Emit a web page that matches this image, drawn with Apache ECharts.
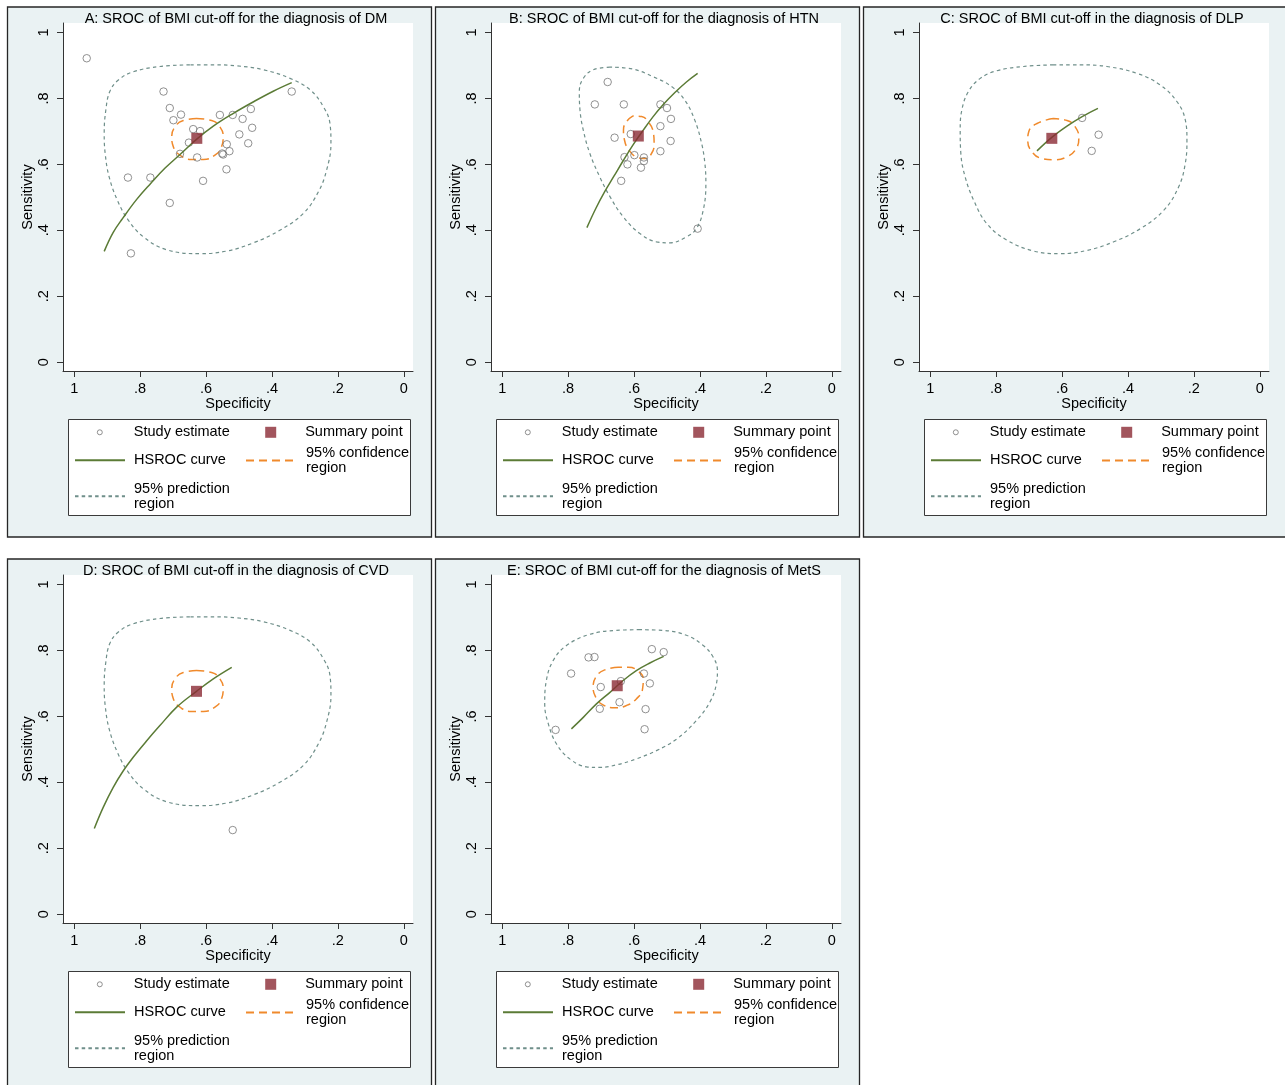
<!DOCTYPE html>
<html><head><meta charset="utf-8">
<script src="https://cdn.jsdelivr.net/npm/echarts@6/dist/echarts.min.js"></script>
<style>html,body{margin:0;padding:0;background:#fff}#c{width:1285px;height:1085px}</style>
</head><body><div id="c"></div>
<script>
// ---------- data (specificity, sensitivity) ----------
const tickValues = [0, 0.2, 0.4, 0.6, 0.8, 1];
const tickLabels = ['0', '.2', '.4', '.6', '.8', '1'];
const titles = [
  'A: SROC of BMI cut-off for the diagnosis of DM',
  'B: SROC of BMI cut-off for the diagnosis of HTN',
  'C: SROC of BMI cut-off in the diagnosis of DLP',
  'D: SROC of BMI cut-off in the diagnosis of CVD',
  'E: SROC of BMI cut-off for the diagnosis of MetS'
];
const legendNames = ['Study estimate', 'Summary point', 'HSROC curve', '95% confidence region', '95% prediction region'];

const studyA = [[0.962,0.922],[0.729,0.821],[0.710,0.771],[0.676,0.751],[0.699,0.734],[0.639,0.707],[0.618,0.701],[0.652,0.666],[0.679,0.632],[0.627,0.621],[0.558,0.750],[0.519,0.750],[0.489,0.738],[0.464,0.768],[0.460,0.711],[0.499,0.691],[0.472,0.664],[0.537,0.661],[0.529,0.640],[0.548,0.630],[0.551,0.633],[0.538,0.585],[0.609,0.550],[0.837,0.560],[0.769,0.560],[0.710,0.483],[0.828,0.330],[0.340,0.821]];
const summaryA = [[0.628,0.679]];
const curveA = [[0.909,0.336],[0.882,0.393],[0.853,0.436],[0.811,0.493],[0.768,0.542],[0.725,0.588],[0.679,0.630],[0.629,0.676],[0.578,0.716],[0.517,0.755],[0.456,0.790],[0.396,0.822],[0.340,0.848]];
const confA = [[0.629,0.739],[0.669,0.733],[0.694,0.714],[0.704,0.684],[0.699,0.653],[0.679,0.628],[0.644,0.615],[0.608,0.615],[0.573,0.628],[0.553,0.653],[0.548,0.684],[0.558,0.714],[0.583,0.733],[0.629,0.739]];
const predA = [[0.649,0.902],[0.740,0.897],[0.821,0.881],[0.866,0.856],[0.892,0.821],[0.904,0.765],[0.909,0.694],[0.906,0.633],[0.894,0.562],[0.869,0.491],[0.836,0.431],[0.790,0.380],[0.720,0.341],[0.618,0.329],[0.537,0.337],[0.456,0.362],[0.376,0.400],[0.305,0.451],[0.259,0.517],[0.234,0.583],[0.221,0.664],[0.224,0.724],[0.244,0.775],[0.284,0.826],[0.345,0.861],[0.426,0.887],[0.507,0.899],[0.578,0.902],[0.649,0.902]];

const studyB = [[0.680,0.850],[0.719,0.782],[0.631,0.782],[0.520,0.782],[0.500,0.771],[0.488,0.738],[0.520,0.716],[0.659,0.681],[0.610,0.692],[0.489,0.671],[0.520,0.640],[0.629,0.622],[0.599,0.628],[0.570,0.621],[0.570,0.610],[0.620,0.600],[0.579,0.590],[0.639,0.550],[0.407,0.405]];
const summaryB = [[0.587,0.686]];
const curveB = [[0.743,0.408],[0.716,0.466],[0.689,0.517],[0.661,0.564],[0.633,0.611],[0.603,0.659],[0.572,0.704],[0.542,0.745],[0.512,0.781],[0.476,0.818],[0.441,0.850],[0.407,0.876]];
const confB = [[0.603,0.747],[0.623,0.729],[0.632,0.704],[0.629,0.674],[0.615,0.643],[0.593,0.623],[0.567,0.618],[0.547,0.633],[0.539,0.664],[0.542,0.699],[0.557,0.729],[0.577,0.745],[0.603,0.747]];
const predB = [[0.673,0.895],[0.724,0.887],[0.754,0.861],[0.766,0.821],[0.764,0.765],[0.754,0.704],[0.734,0.633],[0.704,0.562],[0.673,0.502],[0.633,0.441],[0.582,0.390],[0.532,0.365],[0.491,0.362],[0.441,0.380],[0.411,0.405],[0.390,0.461],[0.382,0.542],[0.385,0.603],[0.395,0.664],[0.416,0.735],[0.446,0.795],[0.486,0.836],[0.542,0.866],[0.603,0.889],[0.673,0.895]];

const studyC = [[0.539,0.741],[0.489,0.690],[0.510,0.641]];
const summaryC = [[0.631,0.679]];
const curveC = [[0.676,0.641],[0.631,0.682],[0.585,0.716],[0.539,0.745],[0.491,0.770]];
const confC = [[0.626,0.739],[0.676,0.724],[0.701,0.699],[0.704,0.674],[0.691,0.638],[0.661,0.618],[0.626,0.614],[0.585,0.623],[0.557,0.648],[0.549,0.679],[0.560,0.714],[0.585,0.733],[0.626,0.739]];
const predC = [[0.626,0.902],[0.717,0.897],[0.798,0.884],[0.848,0.861],[0.884,0.821],[0.904,0.765],[0.909,0.704],[0.907,0.633],[0.894,0.562],[0.868,0.491],[0.828,0.420],[0.767,0.370],[0.686,0.337],[0.605,0.329],[0.524,0.339],[0.443,0.365],[0.362,0.405],[0.291,0.461],[0.246,0.532],[0.226,0.603],[0.221,0.674],[0.226,0.735],[0.251,0.790],[0.302,0.841],[0.372,0.876],[0.464,0.897],[0.545,0.902],[0.626,0.902]];

const studyD = [[0.519,0.255]];
const summaryD = [[0.629,0.676]];
const curveD = [[0.939,0.260],[0.912,0.324],[0.882,0.384],[0.851,0.435],[0.821,0.476],[0.780,0.526],[0.740,0.572],[0.689,0.628],[0.629,0.676],[0.578,0.714],[0.522,0.749]];
const confD = [[0.629,0.739],[0.669,0.733],[0.694,0.714],[0.704,0.684],[0.699,0.653],[0.679,0.628],[0.644,0.615],[0.608,0.615],[0.573,0.628],[0.553,0.653],[0.548,0.684],[0.558,0.714],[0.583,0.733],[0.629,0.739]];
const predD = [[0.649,0.902],[0.740,0.897],[0.821,0.881],[0.866,0.856],[0.892,0.821],[0.904,0.765],[0.909,0.694],[0.906,0.633],[0.894,0.562],[0.869,0.491],[0.836,0.431],[0.790,0.380],[0.720,0.341],[0.618,0.329],[0.537,0.337],[0.456,0.362],[0.376,0.400],[0.305,0.451],[0.259,0.517],[0.234,0.583],[0.221,0.664],[0.224,0.724],[0.244,0.775],[0.284,0.826],[0.345,0.861],[0.426,0.887],[0.507,0.899],[0.578,0.902],[0.649,0.902]];

const studyE = [[0.546,0.804],[0.510,0.795],[0.738,0.779],[0.720,0.780],[0.791,0.730],[0.570,0.730],[0.552,0.700],[0.640,0.707],[0.701,0.689],[0.644,0.643],[0.704,0.623],[0.565,0.622],[0.568,0.561],[0.838,0.559]];
const summaryE = [[0.651,0.693]];
const curveE = [[0.790,0.562],[0.754,0.597],[0.714,0.638],[0.673,0.673],[0.633,0.709],[0.593,0.739],[0.552,0.762],[0.510,0.782]];
const confE = [[0.648,0.749],[0.689,0.741],[0.716,0.719],[0.724,0.689],[0.716,0.658],[0.694,0.635],[0.658,0.626],[0.623,0.633],[0.593,0.653],[0.574,0.684],[0.572,0.714],[0.587,0.737],[0.618,0.749],[0.648,0.749]];
const predE = [[0.582,0.863],[0.653,0.861],[0.734,0.849],[0.805,0.815],[0.845,0.770],[0.866,0.709],[0.871,0.638],[0.860,0.577],[0.835,0.516],[0.795,0.471],[0.744,0.447],[0.704,0.445],[0.653,0.453],[0.593,0.471],[0.532,0.496],[0.471,0.531],[0.411,0.587],[0.370,0.643],[0.350,0.699],[0.347,0.739],[0.360,0.780],[0.390,0.815],[0.441,0.846],[0.512,0.861],[0.582,0.863]];

// ---------- build ----------
const panels = [
  {col:0,row:0,study:studyA,summary:summaryA,curve:curveA,conf:confA,pred:predA},
  {col:1,row:0,study:studyB,summary:summaryB,curve:curveB,conf:confB,pred:predB},
  {col:2,row:0,study:studyC,summary:summaryC,curve:curveC,conf:confC,pred:predC},
  {col:0,row:1,study:studyD,summary:summaryD,curve:curveD,conf:confD,pred:predD},
  {col:1,row:1,study:studyE,summary:summaryE,curve:curveE,conf:confE,pred:predE}
];
const FONT = '"Liberation Sans", Arial, Helvetica, sans-serif';
const FS = 14.5;
const C_PT = '#767676', C_SUM = '#8b2a35', C_HS = '#5b7b36', C_CONF = '#f08a2c', C_PRED = '#6f8f8a';
const BG = '#eaf2f3', AXC = '#333333';
const DX = 428, DY = 552;

const grid = [], xAxis = [], yAxis = [], series = [], title = [], legend = [], graphics = [];
const lab = v => { const i = tickValues.findIndex(t => Math.abs(t - v) < 1e-9); return i >= 0 ? tickLabels[i] : ''; };

panels.forEach((p, i) => {
  const dx = p.col * DX, dy = p.row * DY;
  graphics.push({type:'rect', z:-100, silent:true, shape:{x:7.5+dx, y:7+dy, width:424, height:530}, style:{fill:BG, stroke:'#262626', lineWidth:1.3}});
  graphics.push({type:'rect', z:1, silent:true, shape:{x:68.5+dx, y:419.5+dy, width:342, height:96}, style:{fill:'#fff', stroke:'#3a3a3a', lineWidth:1}});
  grid.push({left:63+dx, top:23+dy, width:350, height:348, show:true, backgroundColor:'#fff', borderWidth:0, outerBoundsMode:'none', containLabel:false});
  const axisCommon = {
    type:'value', gridIndex:i,
    axisLine:{show:true, onZero:false, lineStyle:{color:AXC, width:1}},
    axisTick:{show:true, length:6, customValues:tickValues, lineStyle:{color:AXC, width:1}},
    splitLine:{show:false},
    nameLocation:'middle',
    nameTextStyle:{fontSize:FS, color:'#000', fontFamily:FONT}
  };
  xAxis.push(Object.assign({}, axisCommon, {
    inverse:true, min:-0.028, max:1.034, name:'Specificity', nameGap:23,
    axisLabel:{customValues:tickValues, formatter:lab, margin:10, fontSize:FS, color:'#000', fontFamily:FONT}
  }));
  yAxis.push(Object.assign({}, axisCommon, {
    min:-0.027, max:1.029, name:'Sensitivity', nameGap:23, nameRotate:90,
    axisLabel:{customValues:tickValues, formatter:lab, rotate:90, margin:12, fontSize:FS, color:'#000', fontFamily:FONT}
  }));
  title.push({text:titles[i], left:236+dx, top:11+dy, textAlign:'center', padding:0,
    textStyle:{fontSize:FS, fontWeight:'normal', color:'#000', fontFamily:FONT}});

  series.push({name:legendNames[4], type:'line', xAxisIndex:i, yAxisIndex:i, data:p.pred, symbol:'none', smooth:0.4, z:2,
    lineStyle:{color:C_PRED, width:1.2, type:[3.5,3.2]}, itemStyle:{color:C_PRED}});
  series.push({name:legendNames[3], type:'line', xAxisIndex:i, yAxisIndex:i, data:p.conf, symbol:'none', smooth:0.5, z:3,
    lineStyle:{color:C_CONF, width:1.5, type:[8,5]}, itemStyle:{color:C_CONF}});
  series.push({name:legendNames[0], type:'scatter', xAxisIndex:i, yAxisIndex:i, data:p.study, symbol:'circle', symbolSize:7.5, z:4,
    itemStyle:{color:'rgba(255,255,255,0)', borderColor:C_PT, borderWidth:1}});
  series.push({name:legendNames[2], type:'line', xAxisIndex:i, yAxisIndex:i, data:p.curve, symbol:'none', smooth:0.4, z:5,
    lineStyle:{color:C_HS, width:1.5}, itemStyle:{color:C_HS}});
  series.push({name:legendNames[1], type:'scatter', xAxisIndex:i, yAxisIndex:i, data:p.summary, symbol:'rect', symbolSize:11, z:6,
    itemStyle:{color:C_SUM}});

  const ts = pad => ({fontSize:FS, color:'#000', fontFamily:FONT, lineHeight:15, padding:[0,0,0,pad]});
  const base = {orient:'horizontal', itemWidth:50, padding:0, itemGap:0, selectedMode:false, z:5};
  legend.push(Object.assign({}, base, {left:96.8+dx, top:424.8+dy, itemWidth:5, itemHeight:5, textStyle:ts(26.5),
    data:[{name:legendNames[0], icon:'circle', itemStyle:{color:'#fff', borderColor:C_PT, borderWidth:1}}]}));
  legend.push(Object.assign({}, base, {left:265.2+dx, top:424.8+dy, itemWidth:11, itemHeight:11, textStyle:ts(24),
    data:[{name:legendNames[1], icon:'rect', itemStyle:{color:C_SUM}}]}));
  legend.push(Object.assign({}, base, {left:74+dx, top:452.8+dy, itemHeight:14, textStyle:ts(4), itemStyle:{opacity:0},
    data:[{name:legendNames[2]}]}));
  legend.push(Object.assign({}, base, {left:245+dx, top:445.5+dy, itemHeight:14, textStyle:ts(5), itemStyle:{opacity:0},
    formatter:() => '95% confidence\nregion', data:[{name:legendNames[3]}]}));
  legend.push(Object.assign({}, base, {left:74+dx, top:481.3+dy, itemHeight:14, textStyle:ts(4), itemStyle:{opacity:0},
    formatter:() => '95% prediction\nregion', data:[{name:legendNames[4]}]}));
});

const chart = echarts.init(document.getElementById('c'), null, {renderer:'canvas'});
chart.setOption({
  backgroundColor:'#fff', animation:false,
  title, grid, xAxis, yAxis, legend, series,
  graphic:{elements:graphics}
});
</script></body></html>
